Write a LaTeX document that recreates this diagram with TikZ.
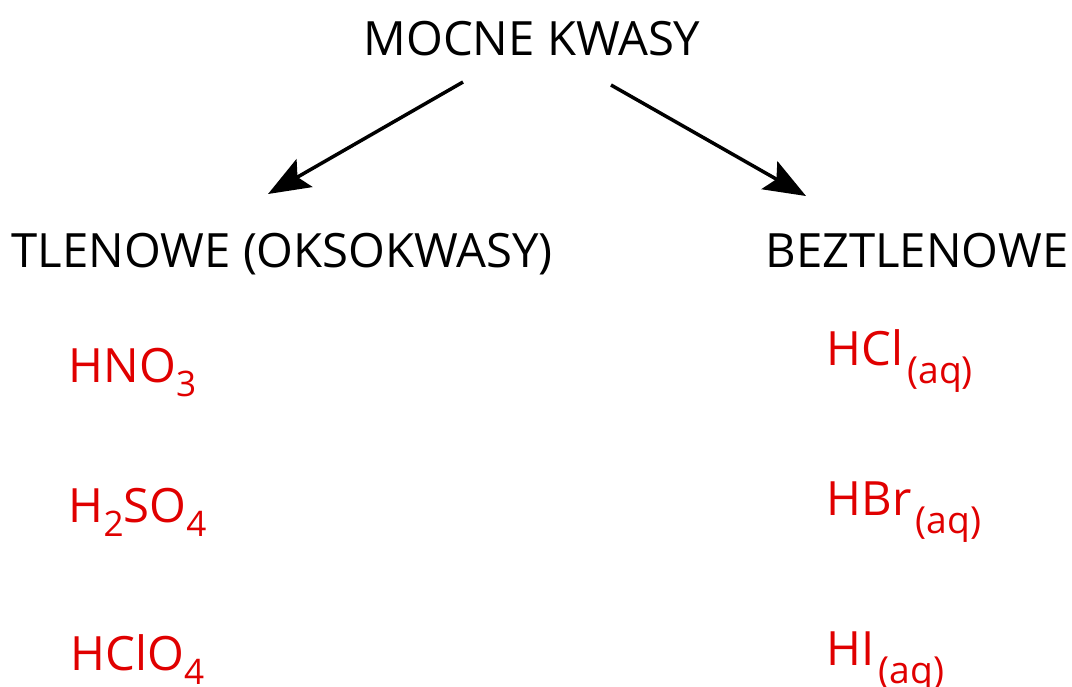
\documentclass[tikz,border=0pt]{standalone}
\usepackage{fontspec}
\setmainfont{Open Sans}
\usetikzlibrary{arrows.meta}
\definecolor{acidRed}{RGB}{224,0,0}
\newcommand{\chemSub}[1]{\raisebox{-0.14cm}{\fontsize{10}{12}\selectfont #1}}
\newcommand{\aqSub}{\hspace{0.04cm}\raisebox{-0.18cm}{\fontsize{10.6}{12}\selectfont (aq)}}

\begin{document}
\begin{tikzpicture}[
	Arrow/.style={-{Stealth[length=0.42cm,width=0.32cm,inset=0.08cm]},black,line width=0.035cm},
	Group/.style={inner sep=0pt,font=\fontsize{13.45}{16}\selectfont},
	Acid/.style={inner sep=0pt,anchor=base west,text=acidRed,font=\fontsize{13.45}{16}\selectfont},
]
	\useasboundingbox (0,0) rectangle (10.72,-6.86);
	%\draw[help lines,step=1,gray!20] (0,0) grid (10.72,-6.86);
	\node[Group,anchor=base] (top) at (5.32,-0.55) {MOCNE KWASY};
	\node[Group,anchor=base west] (oxo) at (0.11,-2.67) {TLENOWE (OKSOKWASY)};
	\node[Group,anchor=base east] (nonoxo) at (10.69,-2.67) {BEZTLENOWE};

	\node[Acid] (hno) at (0.68,-3.82) {HNO\chemSub{3}};
	\node[Acid] (hso) at (0.68,-5.22) {H\chemSub{2}SO\chemSub{4}};
	\node[Acid] (hclo) at (0.70,-6.70) {HClO\chemSub{4}};
	\node[Acid] (hcl) at (8.26,-3.65) {HCl\aqSub};
	\node[Acid] (hbr) at (8.26,-5.15) {HBr\aqSub};
	\node[Acid] (hi) at (8.26,-6.65) {HI\aqSub};

	\coordinate (topL) at (4.63,-0.82);
	\coordinate (topR) at (6.11,-0.85);
	\coordinate (oxoIn) at (2.68,-1.94);
	\coordinate (nonoxoIn) at (8.06,-1.96);

	\path[Arrow]
	(topL) edge (oxoIn)
	(topR) edge (nonoxoIn)
	;
\end{tikzpicture}
\end{document}
